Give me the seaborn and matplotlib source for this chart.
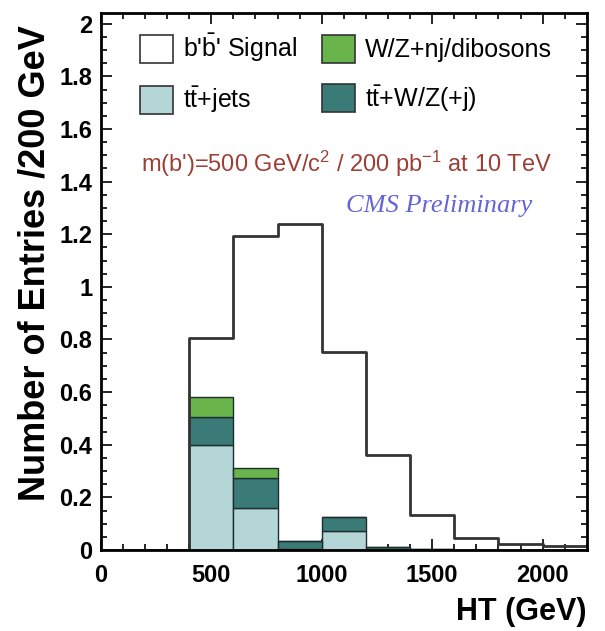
import numpy as np
import pandas as pd
import matplotlib
matplotlib.use("Agg")
import matplotlib.pyplot as plt
import seaborn as sns
from matplotlib.patches import Patch
from matplotlib.ticker import MultipleLocator

# HT binning (GeV), 200 GeV bins
bin_edges = list(range(0, 2400, 200))
bin_centers = [e + 100 for e in bin_edges[:-1]]

# Expected entries per bin
signal = [0, 0, 0.807, 1.194, 1.238, 0.754, 0.361, 0.133, 0.044, 0.022, 0.015]
ttjets = [0, 0, 0.400, 0.158, 0.004, 0.072, 0, 0, 0, 0, 0]
ttv = [0, 0, 0.107, 0.115, 0.031, 0.052, 0.010, 0.005, 0, 0, 0]
wz_dibosons = [0, 0, 0.076, 0.037, 0, 0, 0, 0, 0, 0, 0]

labels = {
    "signal": "b'$\\mathrm{\\bar{b}}$' Signal",
    "ttjets": "$\\mathrm{t\\bar{t}}$+jets",
    "wz": "W/Z+nj/dibosons",
    "ttv": "$\\mathrm{t\\bar{t}}$+W/Z(+j)",
}
colors = {
    "ttjets": "#b4d6d6",
    "ttv": "#3a7a77",
    "wz": "#6ab54b",
}

sns.set_theme(style="ticks")
plt.rcParams["font.family"] = ["Liberation Sans", "DejaVu Sans"]
plt.rcParams["mathtext.fontset"] = "custom"
plt.rcParams["mathtext.rm"] = "Liberation Sans"
plt.rcParams["mathtext.it"] = "Liberation Sans:italic"
plt.rcParams["text.color"] = "black"
plt.rcParams["axes.labelcolor"] = "black"
plt.rcParams["xtick.color"] = "black"
plt.rcParams["ytick.color"] = "black"

bkg = pd.DataFrame({
    "ht": bin_centers * 3,
    "w": wz_dibosons + ttv + ttjets,
    "proc": ["wz"] * len(bin_centers) + ["ttv"] * len(bin_centers) + ["ttjets"] * len(bin_centers),
})
sig = pd.DataFrame({"ht": bin_centers, "w": signal})

fig = plt.figure(figsize=(6.05, 6.31), dpi=100)
ax = fig.add_axes([0.1665, 0.1284, 0.8035, 0.8506])

# stacked backgrounds (first hue level ends up on top of the stack)
sns.histplot(data=bkg, x="ht", weights="w", hue="proc",
             hue_order=["wz", "ttv", "ttjets"], palette=colors,
             bins=bin_edges, multiple="stack", element="bars",
             edgecolor="#1e2e2e", linewidth=1.0, alpha=1,
             legend=False, ax=ax)
# signal outline
sns.histplot(data=sig, x="ht", weights="w", bins=bin_edges,
             element="step", fill=False, color="#333333",
             linewidth=2.0, legend=False, ax=ax)

ax.set_xlim(0, 2200)
ax.set_ylim(0, 2.04)
ax.xaxis.set_major_locator(MultipleLocator(500))
ax.xaxis.set_minor_locator(MultipleLocator(100))
ax.yaxis.set_minor_locator(MultipleLocator(0.05))
ax.set_yticks([i * 0.2 for i in range(11)])
ax.set_yticklabels(["0", "0.2", "0.4", "0.6", "0.8", "1", "1.2", "1.4", "1.6", "1.8", "2"])
ax.tick_params(which="both", direction="in", top=True, right=True,
               width=1.2, color="black", labelcolor="black")
ax.tick_params(which="major", length=8, labelsize=17)
ax.tick_params(which="minor", length=4)
ax.tick_params(axis="x", pad=10)
ax.tick_params(axis="y", pad=6)
for lab in ax.get_xticklabels() + ax.get_yticklabels():
    lab.set_fontweight("bold")
for sp in ax.spines.values():
    sp.set_linewidth(2.0)
    sp.set_color("black")

ax.set_ylabel("Number of Entries /200 GeV", fontsize=26, fontweight="bold", color="black")
ax.yaxis.set_label_coords(-0.100, 0.535)
ax.set_xlabel("HT (GeV)", fontsize=22, fontweight="bold", ha="right", color="black")
ax.xaxis.set_label_coords(1.0, -0.088)

handles = [
    Patch(facecolor="white", edgecolor="#333333", linewidth=1.2),
    Patch(facecolor=colors["ttjets"], edgecolor="#333333", linewidth=1.2),
    Patch(facecolor=colors["wz"], edgecolor="#333333", linewidth=1.2),
    Patch(facecolor=colors["ttv"], edgecolor="#333333", linewidth=1.2),
]
ax.legend(handles, [labels["signal"], labels["ttjets"], labels["wz"], labels["ttv"]],
          ncol=2, loc="upper left", bbox_to_anchor=(0.081, 0.966),
          frameon=False, fontsize=18, borderpad=0, borderaxespad=0,
          handlelength=1.32, handleheight=1.32, handletextpad=0.4,
          columnspacing=1.0, labelspacing=0.8, labelcolor="black")

ax.text(0.506, 0.719, "m(b')=500 GeV/c$^{2}$ / 200 pb$^{-1}$ at 10 TeV",
        transform=ax.transAxes, ha="center", va="center",
        fontsize=17, color="#9e3f36")
ax.text(0.696, 0.640, "CMS Preliminary", transform=ax.transAxes,
        ha="center", va="center", fontsize=19, style="italic",
        family="Liberation Serif", color="#6464d8")

fig.savefig("out.png", dpi=100)
